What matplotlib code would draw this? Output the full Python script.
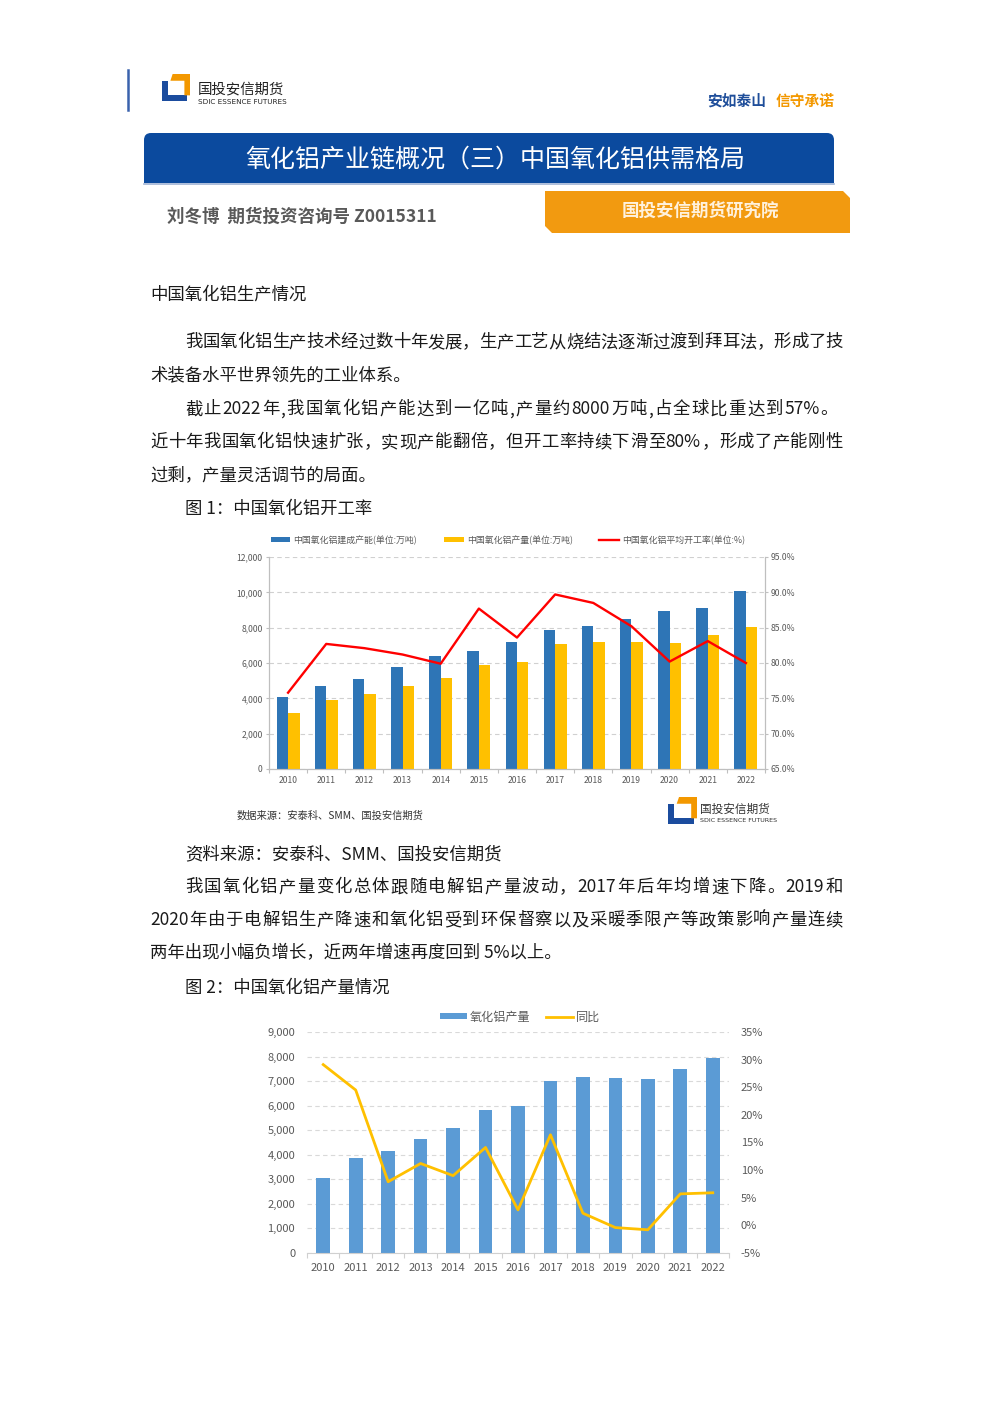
import re
import numpy as np
import matplotlib
matplotlib.use('Agg')
import matplotlib.pyplot as plt
from matplotlib.patches import Rectangle, Polygon, FancyBboxPatch
from matplotlib.ticker import FuncFormatter, MultipleLocator

plt.rcParams['font.family'] = ['Noto Sans CJK SC', 'DejaVu Sans']

# ---------------- data ----------------
years = ['2010', '2011', '2012', '2013', '2014', '2015', '2016',
         '2017', '2018', '2019', '2020', '2021', '2022']
# chart 1
capacity = [4100, 4700, 5100, 5800, 6400, 6700, 7200, 7850, 8100, 8500, 8950, 9100, 10050]
output1 = [3150, 3900, 4250, 4700, 5150, 5900, 6050, 7050, 7200, 7200, 7150, 7600, 8050]
util_rate = [75.8, 82.7, 82.1, 81.2, 79.9, 87.7, 83.6, 89.7, 88.5, 85.2, 80.2, 83.1, 80.0]
# chart 2
output2 = [3050, 3850, 4150, 4650, 5100, 5830, 6000, 7000, 7170, 7130, 7080, 7490, 7940]
yoy = [29.1, 24.5, 7.9, 11.2, 9.0, 14.1, 2.8, 16.4, 2.2, -0.4, -0.8, 5.7, 5.9]

cap_label = '中国氧化铝建成产能(单位:万吨)'
out_label = '中国氧化铝产量(单位:万吨)'
util_label = '中国氧化铝平均开工率(单位:%)'
out2_label = '氧化铝产量'
yoy_label = '同比'

# ---------------- page ----------------
W, H, DPI = 992, 1403, 100
fig = plt.figure(figsize=(W / DPI, H / DPI), dpi=DPI)
fig.patch.set_facecolor('white')
bg = fig.add_axes([0, 0, 1, 1])
bg.set_xlim(0, W)
bg.set_ylim(H, 0)
bg.axis('off')

BLUE = '#1B4C9E'
ORANGE = '#F39800'
TXT = '#1a1a1a'
BODY = 12.5

renderer = fig.canvas.get_renderer()


def text_w(s, size, weight='normal'):
    t = bg.text(0, 0, s, fontsize=size, fontweight=weight)
    w = t.get_window_extent(renderer).width
    t.remove()
    return w


def adv(tok, size):
    if len(tok) == 1 and ord(tok) >= 0x2E80:
        return size * DPI / 72
    return text_w('国' + tok + '国', size) - text_w('国国', size)


def body_line(s, x0, yc, x1=None, size=BODY, color=TXT):
    yb = yc + 0.36 * size * DPI / 72
    if x1 is None:
        bg.text(x0, yb, s, fontsize=size, color=color, ha='left', va='baseline')
        return
    toks = re.findall(r'[A-Za-z0-9%.]+|\S', s)
    ws = [adv(t, size) for t in toks]
    gap = (x1 - x0 - sum(ws)) / (len(toks) - 1)
    x = x0
    for t, w in zip(toks, ws):
        bg.text(x, yb, t, fontsize=size, color=color, ha='left', va='baseline')
        x += w + gap


def draw_logo(x0, y0, w, h):
    def P(pts, c):
        bg.add_patch(Polygon([(x0 + px * w, y0 + py * h) for px, py in pts],
                             closed=True, facecolor=c, edgecolor='none'))
    # blue L
    P([(0, 0.25), (0.21, 0.25), (0.21, 0.79), (0.88, 0.79), (0.88, 1), (0, 1)], BLUE)
    # orange corner
    P([(0.30, 0.25), (0.38, 0), (1, 0), (1, 0.79), (0.80, 0.79), (0.80, 0.25)], ORANGE)


# header
bg.plot([128, 128], [70, 110], color='#3a62ad', lw=1.8)
draw_logo(162, 74, 28, 27)
bg.text(198, 89, '国投安信期货', fontsize=10.4, color='#222222', ha='left', va='center')
bg.text(198, 101.5, 'SDIC ESSENCE FUTURES', fontsize=5.2, color='#222222', ha='left',
        va='center', family='DejaVu Sans')
bg.text(707, 101, '安如泰山', fontsize=10.6, color='#1F4E9A', fontweight='bold', ha='left', va='center')
bg.text(776, 101, '信守承诺', fontsize=10.6, color=ORANGE, fontweight='bold', ha='left', va='center')

# title banner
bg.add_patch(FancyBboxPatch((144, 133), 690, 50, boxstyle='round,pad=0,rounding_size=7',
                            facecolor='#0B4A9E', edgecolor='none'))
bg.add_patch(Rectangle((144, 165), 690, 18, facecolor='#0B4A9E', edgecolor='none'))
bg.plot([144, 834], [183.5, 183.5], color='#9fb3d4', lw=1.2)
bg.text(495, 160, '氧化铝产业链概况（三）中国氧化铝供需格局', fontsize=18, color='white',
        ha='center', va='center')

# author + orange box
bg.text(167, 217, '刘冬博  期货投资咨询号 Z0015311', fontsize=12.6, color='#595959',
        fontweight='bold', ha='left', va='center')
bg.add_patch(Polygon([(545, 191), (843, 191), (850, 198), (850, 233), (552, 233), (545, 226)],
                     closed=True, facecolor='#F29A10', edgecolor='none'))
bg.text(700, 211, '国投安信期货研究院', fontsize=12.6, color='#FFF1DC', fontweight='bold',
        ha='center', va='center')

# body text
body_line('中国氧化铝生产情况', 150, 293)
body_line('我国氧化铝生产技术经过数十年发展，生产工艺从烧结法逐渐过渡到拜耳法，形成了技', 185, 341, 843)
body_line('术装备水平世界领先的工业体系。', 150, 374)
body_line('截止2022年,我国氧化铝产能达到一亿吨,产量约8000万吨,占全球比重达到57%。', 185, 408, 838)
body_line('近十年我国氧化铝快速扩张，实现产能翻倍，但开工率持续下滑至 80%，形成了产能刚性', 150, 441, 843)
body_line('过剩，产量灵活调节的局面。', 150, 474)
body_line('图 1：中国氧化铝开工率', 185, 508)
body_line('资料来源：安泰科、SMM、国投安信期货', 185, 853)
body_line('我国氧化铝产量变化总体跟随电解铝产量波动，2017 年后年均增速下降。2019 和', 185, 886, 843)
body_line('2020 年由于电解铝生产降速和氧化铝受到环保督察以及采暖季限产等政策影响产量连续', 150, 919, 843)
body_line('两年出现小幅负增长，近两年增速再度回到 5%以上。', 150, 952)
body_line('图 2：中国氧化铝产量情况', 185, 986)

# chart 1 footer
bg.text(237, 816, '数据来源：安泰科、SMM、国投安信期货', fontsize=7.4, color='#333333', ha='left', va='center')
draw_logo(668, 797, 29, 27)
bg.text(700, 809, '国投安信期货', fontsize=8.4, color='#333333', ha='left', va='center')
bg.text(700, 821, 'SDIC ESSENCE FUTURES', fontsize=4.6, color='#333333', ha='left', va='center',
        family='DejaVu Sans')


def px_axes(x0, y0, x1, y1):
    return fig.add_axes([x0 / W, 1 - y1 / H, (x1 - x0) / W, (y1 - y0) / H])


GRAY = '#595959'
x = np.arange(len(years))

# ---------------- chart 1 ----------------
ax1 = px_axes(269, 557, 765, 769)
ax1.patch.set_alpha(0)
bw = 0.30
b1 = ax1.bar(x - bw / 2, capacity, bw, color='#2E75B6', label=cap_label, zorder=2)
b2 = ax1.bar(x + bw / 2, output1, bw, color='#FFC000', label=out_label, zorder=2)
ax1.set_xlim(-0.5, len(years) - 0.5)
ax1.set_ylim(0, 12000)
ax1.yaxis.set_major_locator(MultipleLocator(2000))
ax1.yaxis.set_major_formatter(FuncFormatter(lambda v, p: f'{int(v):,}'))
ax1.grid(axis='y', color='#d0d0d0', linestyle=(0, (4, 3)), linewidth=0.8, zorder=0)
ax1.set_axisbelow(True)
ax1.set_xticks(x)
ax1.set_xticklabels(years)
ax1.set_xticks(np.arange(-0.5, len(years), 1), minor=True)
ax1.tick_params(axis='x', which='major', length=0, pad=5, labelsize=6.2, labelcolor=GRAY)
ax1.tick_params(axis='x', which='minor', length=3, color='#bfbfbf', width=0.8)
ax1.tick_params(axis='y', length=2.5, color='#bfbfbf', width=0.8, labelsize=6.2, labelcolor=GRAY, pad=2)
ax1.spines['top'].set_visible(False)
for s in ['left', 'right', 'bottom']:
    ax1.spines[s].set_color('#bfbfbf')
    ax1.spines[s].set_linewidth(0.8)

ax1r = ax1.twinx()
l1, = ax1r.plot(x, util_rate, color='#FF0000', lw=1.7, label=util_label, zorder=3)
ax1r.set_ylim(65, 95)
ax1r.yaxis.set_major_locator(MultipleLocator(5))
ax1r.yaxis.set_major_formatter(FuncFormatter(lambda v, p: f'{v:.1f}%'))
ax1r.tick_params(axis='y', length=2.5, color='#bfbfbf', width=0.8, labelsize=6.2, labelcolor=GRAY, pad=1.5)
ax1r.spines['top'].set_visible(False)
for s in ['left', 'right', 'bottom']:
    ax1r.spines[s].set_color('#bfbfbf')
    ax1r.spines[s].set_linewidth(0.8)

leg1 = ax1.legend(handles=[b1, b2, l1], loc='center', ncol=3, frameon=False,
                  bbox_to_anchor=(508 / W, 1 - 540 / H), bbox_transform=fig.transFigure,
                  fontsize=6.4, handlelength=2.2, handleheight=0.45, handletextpad=0.35,
                  columnspacing=3.0, labelcolor=GRAY)

# ---------------- chart 2 ----------------
ax2 = px_axes(307, 1032, 729, 1253)
ax2.patch.set_alpha(0)
bb = ax2.bar(x, output2, 0.42, color='#5B9BD5', label=out2_label, zorder=2)
ax2.set_xlim(-0.5, len(years) - 0.5)
ax2.set_ylim(0, 9000)
ax2.yaxis.set_major_locator(MultipleLocator(1000))
ax2.yaxis.set_major_formatter(FuncFormatter(lambda v, p: f'{int(v):,}'))
ax2.grid(axis='y', color='#d9d9d9', linestyle=(0, (4, 3)), linewidth=0.8, zorder=0)
ax2.set_axisbelow(True)
ax2.set_xticks(x)
ax2.set_xticklabels(years)
ax2.set_xticks(np.arange(-0.5, len(years), 1), minor=True)
ax2.tick_params(axis='x', which='major', length=0, pad=7, labelsize=8, labelcolor=GRAY)
ax2.tick_params(axis='x', which='minor', length=3.5, color='#d0d0d0', width=0.8)
ax2.tick_params(axis='y', length=0, labelsize=8, labelcolor=GRAY, pad=8.5)
for s in ['top', 'left', 'right']:
    ax2.spines[s].set_visible(False)
ax2.spines['bottom'].set_color('#d0d0d0')
ax2.spines['bottom'].set_linewidth(0.8)

ax2r = ax2.twinx()
l2, = ax2r.plot(x, yoy, color='#FFC000', lw=2.0, label=yoy_label, zorder=3)
ax2r.set_ylim(-5, 35)
ax2r.yaxis.set_major_locator(MultipleLocator(5))
ax2r.yaxis.set_major_formatter(FuncFormatter(lambda v, p: f'{int(round(v))}%'))
ax2r.tick_params(axis='y', length=0, labelsize=8, labelcolor=GRAY, pad=8.5)
for s in ['top', 'left', 'right', 'bottom']:
    ax2r.spines[s].set_visible(False)

leg2 = ax2.legend(handles=[bb, l2], loc='center', ncol=2, frameon=False,
                  bbox_to_anchor=(520 / W, 1 - 1017 / H), bbox_transform=fig.transFigure,
                  fontsize=8.7, handlelength=2.2, handleheight=0.45, handletextpad=0.25,
                  columnspacing=1.3, labelcolor=GRAY)

fig.savefig('out.png', dpi=DPI, facecolor='white')
